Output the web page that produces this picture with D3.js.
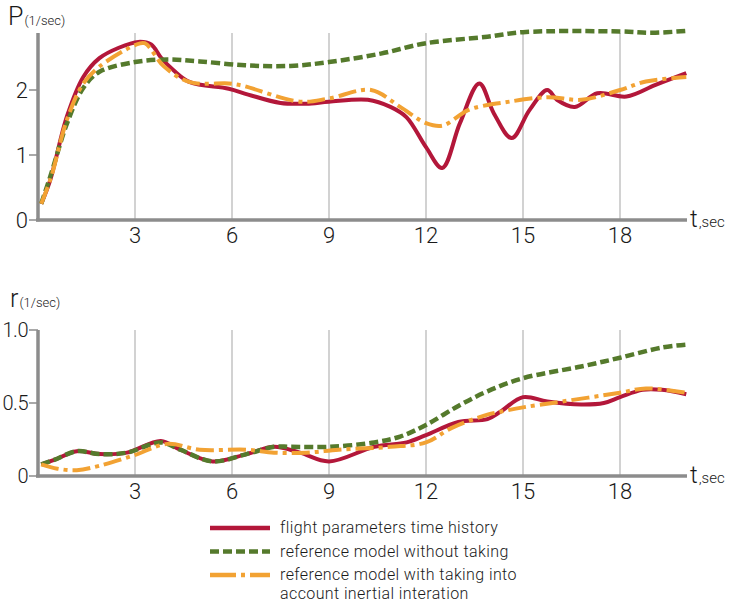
<!DOCTYPE html>
<html>
<head>
<meta charset="utf-8">
<script src="https://cdn.jsdelivr.net/npm/d3@7"></script>
<style>
  body { margin: 0; background: #fff; }
  svg { display: block; font-family: Roboto, "DejaVu Sans", sans-serif; }
</style>
</head>
<body>
<div id="chart"></div>
<script>
// time ticks shared by both panels
const tTicks = [3, 6, 9, 12, 15, 18];

// P (roll rate) panel, [t, value]
const pFlight = [[0.1,0.25],[0.37,0.6],[0.9,1.6],[1.4,2.2],[1.9,2.49],[2.5,2.65],[3.1,2.74],[3.5,2.7],[3.8,2.5],[4.2,2.3],[4.7,2.12],[5.9,2.02],[6.5,1.93],[7.5,1.8],[8.3,1.79],[9,1.82],[10.2,1.85],[10.9,1.74],[11.4,1.58],[12.0,1.12],[12.5,0.8],[13.05,1.49],[13.65,2.1],[14.1,1.64],[14.65,1.26],[15.2,1.69],[15.75,2.0],[16.05,1.85],[16.6,1.74],[17.3,1.95],[18.2,1.9],[19.1,2.08],[20.05,2.26]];
const pNoInertia = [[0.1,0.25],[0.4,0.7],[0.9,1.49],[1.4,2.03],[1.9,2.28],[3,2.43],[4,2.47],[5,2.44],[6.4,2.38],[7.8,2.37],[9,2.43],[10.6,2.56],[12,2.72],[13.9,2.82],[15,2.89],[18,2.9],[19,2.88],[20.05,2.91]];
const pInertia = [[0.1,0.25],[0.4,0.65],[0.9,1.55],[1.4,2.1],[1.9,2.36],[3,2.69],[3.3,2.72],[3.9,2.36],[4.7,2.12],[5.9,2.1],[6.3,2.07],[8.1,1.82],[9,1.87],[10.3,2.0],[11.2,1.74],[12.0,1.49],[12.5,1.45],[13.3,1.69],[13.9,1.77],[14.3,1.8],[15.75,1.89],[16.8,1.85],[18,2.0],[18.8,2.13],[20.05,2.2]];

// r (yaw rate) panel, [t, value]
const rFlight = [[0.1,0.08],[0.5,0.11],[1.2,0.17],[1.9,0.15],[2.75,0.16],[3.8,0.24],[4.4,0.18],[5.4,0.1],[6.45,0.15],[7.3,0.2],[8.1,0.16],[9.0,0.1],[10.4,0.2],[11.4,0.23],[12,0.28],[13,0.37],[13.9,0.39],[14.3,0.44],[15,0.54],[15.75,0.51],[16.8,0.49],[17.5,0.5],[18,0.54],[18.7,0.59],[19.3,0.59],[20.05,0.56]];
const rNoInertia = [[0.1,0.08],[0.5,0.11],[1.2,0.17],[1.9,0.15],[2.75,0.16],[3.8,0.23],[4.4,0.18],[5.4,0.1],[6.45,0.15],[7.3,0.2],[7.8,0.2],[9,0.2],[10.4,0.23],[11.2,0.27],[12,0.35],[13,0.48],[13.9,0.58],[15,0.67],[16.8,0.75],[18,0.81],[19.3,0.88],[20.05,0.9]];
const rInertia = [[0.1,0.08],[0.6,0.05],[1.2,0.04],[1.9,0.07],[2.95,0.14],[4,0.22],[5,0.18],[6.45,0.18],[7.3,0.16],[8.3,0.16],[9.3,0.18],[10.9,0.2],[12,0.23],[12.8,0.33],[13.9,0.42],[14.3,0.44],[15,0.47],[16.2,0.51],[18,0.57],[18.8,0.6],[20.05,0.57]];

const legendLabels = [
  ["flight parameters time history"],
  ["reference model without taking"],
  ["reference model with taking into", "account inertial interation"]
];

const W = 733, H = 612;
const styles = [
  {color: '#b3173a', width: 4, dash: null},
  {color: '#557a2c', width: 4.5, dash: '9,4'},
  {color: '#f2a233', width: 4, dash: '18,5,4,5'}
];

const svg = d3.select('#chart').append('svg')
  .attr('width', W).attr('height', H);

const x = d3.scaleLinear().domain([0, 3]).range([38, 135]);

function panel(cfg) {
  const y = d3.scaleLinear().domain([0, cfg.top]).range([cfg.y0, cfg.y1]);
  const g = svg.append('g');

  // vertical grid lines
  g.selectAll('line.grid')
    .data(tTicks)
    .join('line')
    .classed('grid', true)
    .attr('x1', d => x(d)).attr('x2', d => x(d))
    .attr('y1', cfg.y0).attr('y2', cfg.y1)
    .attr('stroke', '#b4b4b4').attr('stroke-width', 1.2);

  // axes
  g.append('line')
    .attr('x1', 38).attr('x2', 38).attr('y1', cfg.y0 + 1.5).attr('y2', cfg.y1)
    .attr('stroke', '#8c8c8c').attr('stroke-width', 3.5);
  g.append('line')
    .attr('x1', 36).attr('x2', 687).attr('y1', cfg.y0).attr('y2', cfg.y0)
    .attr('stroke', '#8c8c8c').attr('stroke-width', 3.5);

  // y ticks
  g.selectAll('line.ytick')
    .data(cfg.yTicks)
    .join('line')
    .classed('ytick', true)
    .attr('x1', 29).attr('x2', 38)
    .attr('y1', d => y(d)).attr('y2', d => y(d))
    .attr('stroke', '#8c8c8c').attr('stroke-width', 1.5);
  g.selectAll('text.ylab')
    .data(cfg.yTicks)
    .join('text')
    .classed('ylab', true)
    .attr('x', 28).attr('y', d => y(d) + cfg.yFont * 0.36)
    .attr('text-anchor', 'end')
    .attr('font-size', cfg.yFont).attr('font-weight', 300).attr('fill', '#1a1a1a')
    .attr('letter-spacing', cfg.yFont < 22 ? -0.5 : 0)
    .text(cfg.fmt);

  // x tick labels
  g.selectAll('text.xlab')
    .data(tTicks)
    .join('text')
    .classed('xlab', true)
    .attr('x', d => x(d)).attr('y', cfg.y0 + 23)
    .attr('text-anchor', 'middle')
    .attr('font-size', 22).attr('font-weight', 300).attr('fill', '#1a1a1a')
    .text(d => d);

  // axis titles
  const tl = g.append('text').attr('x', 690).attr('y', cfg.y0 + 7)
    .attr('fill', '#1a1a1a').attr('font-weight', 300);
  tl.append('tspan').attr('font-size', 24).text('t');
  tl.append('tspan').attr('font-size', 15).attr('dx', 1).text(',sec');

  const yl = g.append('text').attr('x', cfg.yName === 'P' ? 8 : 10).attr('y', cfg.yTitleY)
    .attr('fill', '#1a1a1a').attr('font-weight', 300);
  yl.append('tspan').attr('font-size', 25).text(cfg.yName);
  yl.append('tspan').attr('font-size', 13).attr('dx', 1).text('(1/sec)');

  // series
  const line = d3.line()
    .x(d => x(d[0])).y(d => y(d[1]))
    .curve(d3.curveCatmullRom.alpha(0.5));
  cfg.series.forEach((s, i) => {
    g.append('path')
      .datum(s)
      .attr('d', line)
      .attr('fill', 'none')
      .attr('stroke', styles[i].color)
      .attr('stroke-width', styles[i].width)
      .attr('stroke-dasharray', styles[i].dash)
      .attr('stroke-linejoin', 'round');
  });
}

panel({y0: 220, y1: 33, top: 2.877, yTicks: [0, 1, 2], fmt: d => d, yFont: 22,
  yName: 'P', yTitleY: 25, series: [pFlight, pNoInertia, pInertia]});
panel({y0: 476, y1: 330, top: 1.0, yTicks: [0, 0.5, 1.0], yFont: 20,
  fmt: d => d === 0 ? '0' : d.toFixed(1),
  yName: 'r', yTitleY: 307, series: [rFlight, rNoInertia, rInertia]});

// legend
const leg = svg.append('g').attr('transform', 'translate(210,528)');
const item = leg.selectAll('g.item')
  .data(legendLabels)
  .join('g')
  .classed('item', true)
  .attr('transform', (d, i) => `translate(0,${i * 23.5})`);
item.append('line')
  .attr('x1', 0).attr('x2', 60).attr('y1', 0).attr('y2', 0)
  .attr('stroke', (d, i) => styles[i].color)
  .attr('stroke-width', 4.5)
  .attr('stroke-dasharray', (d, i) => i === 2 ? '26,5,4,5' : styles[i].dash);
item.selectAll('text')
  .data(d => d)
  .join('text')
  .attr('x', 70).attr('y', (d, j) => 5 + j * 19)
  .attr('font-size', 16).attr('font-weight', 300).attr('fill', '#1a1a1a')
  .attr('letter-spacing', 0.4)
  .text(d => d);
</script>
</body>
</html>
